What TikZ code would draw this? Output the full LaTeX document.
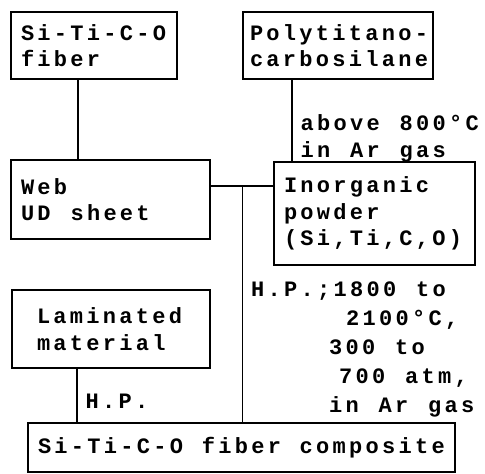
\documentclass[tikz,border=0pt]{standalone}
\usepackage{fontspec}
\setmonofont[LetterSpace=15, WordSpace=1.2]{Liberation Mono}
\usetikzlibrary{positioning}
\newcommand\flowfont[1]{\ttfamily\bfseries\fontsize{22}{#1}\selectfont}
\begin{document}
\begin{tikzpicture}[node distance=2cm, line width=1.2pt,
    font=\flowfont{26.5},
    box/.style={draw, rectangle, align=flush left, inner xsep=10pt, inner ysep=0pt},
    cond/.style={right, align=left, inner xsep=8pt}]
    \useasboundingbox (0,0) rectangle (485pt,-474pt);
    \node (fiber) [box, text width=146pt, minimum height=67pt] at (94pt,-45.5pt) {Si-Ti-C-O\\fiber};
    \node (poly) [box, right of=fiber, node distance=244pt, inner xsep=7pt, text width=176pt, minimum height=67pt] {Polytitano-\\carbosilane};
    \node (web) [box, below of=fiber, node distance=154pt, xshift=16.5pt, text width=179pt, minimum height=79pt] {Web\\UD sheet};
    \node (inorg) [box, below of=poly, node distance=168pt, xshift=36.5pt, text width=181pt, minimum height=103pt] {Inorganic\\powder\\(Si,Ti,C,O)};
    \node (lamin) [box, below of=web, node distance=129.5pt, xshift=0.5pt, inner xsep=25pt, text width=148pt, minimum height=78pt] {Laminated\\material};
    \node (comp) [box, below of=lamin, node distance=118.5pt, xshift=130.5pt, text width=407pt, minimum height=49pt] {Si-Ti-C-O fiber composite};
    \coordinate (tee) at ([xshift=32pt,yshift=13.5pt]web.east);

    \draw ([xshift=-16pt]fiber.south) -- ([xshift=-16pt]fiber.south |- web.north);
    \draw ([xshift=-46pt]poly.south) -- node[cond, pos=0.72] {above 800°C\\in Ar gas} ([xshift=-46pt]poly.south |- inorg.north);
    \draw ([yshift=13.5pt]web.east) -- ([yshift=13.5pt]web.east -| inorg.west);
    \draw (tee) -- node[cond, pos=0.69, font=\flowfont{29}] {H.P.;1800 to\\\hspace*{95pt}2100°C,\\\hspace*{78pt}300 to\\\hspace*{88pt}700 atm,\\\hspace*{78pt}in Ar gas} (tee |- comp.north);
    \draw ([xshift=-34pt]lamin.south) -- node[cond, pos=0.6] {H.P.} ([xshift=-34pt]lamin.south |- comp.north);
\end{tikzpicture}
\end{document}
